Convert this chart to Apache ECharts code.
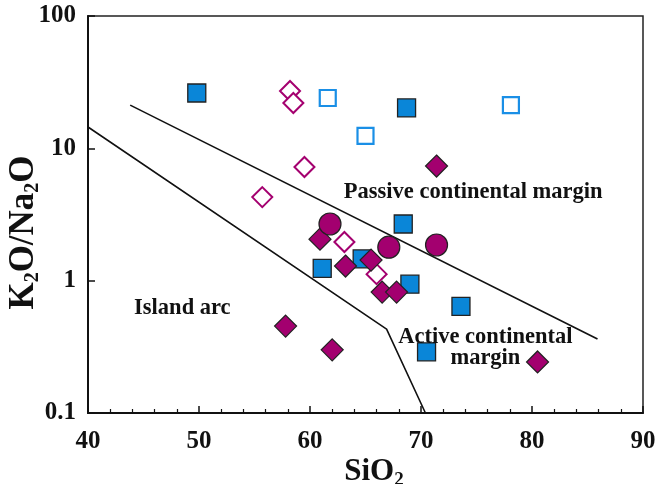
<!DOCTYPE html>
<html>
<head>
<meta charset="utf-8">
<script src="https://cdn.jsdelivr.net/npm/echarts@6/dist/echarts.min.js"></script>
<style>
html,body{margin:0;padding:0;background:#fff;}
#main{width:661px;height:484px;}
</style>
</head>
<body>
<div id="main"></div>
<script>
// SiO2 - K2O/Na2O 构造环境判别图
var serif = "'Liberation Serif', 'Times New Roman', serif";

var xTicks = [40, 50, 60, 70, 80, 90];
var yTicks = [0.1, 1, 10, 100];

// 样品点 [SiO2, K2O/Na2O]
var filledSquares = [[49.8, 26.2], [68.7, 20.2], [68.4, 2.68], [61.1, 1.24], [64.7, 1.46], [69.0, 0.94], [73.6, 0.64], [70.5, 0.29]];
var openSquares = [[61.6, 24.0], [65.0, 12.4], [78.1, 21.2]];
var openDiamonds = [[58.2, 27.1], [58.5, 22.0], [59.5, 7.23], [55.7, 4.28], [63.1, 1.96], [66.0, 1.12]];
var filledDiamonds = [[71.4, 7.35], [60.9, 2.06], [63.2, 1.29], [65.5, 1.43], [66.5, 0.82], [67.8, 0.82], [57.8, 0.454], [62.0, 0.30], [80.5, 0.243]];
var circles = [[61.8, 2.68], [67.1, 1.79], [71.4, 1.86]];

// 分区界线
var upperBoundary = [[43.8, 21.2], [85.9, 0.362]];
var lowerBoundary = [[40, 14.5], [66.9, 0.43], [70.4, 0.1]];

// 分区名称
var regionNames = ['Passive continental margin', 'Island arc', 'Active continental\nmargin'];
var regionPos = [[74.7, 4.68], [48.5, 0.621], [75.8, 0.312]];

var regionData = [];
for (var i = 0; i < regionNames.length; i++) {
	regionData.push({ value: regionPos[i], name: regionNames[i] });
}

function boundary(data) {
	return {
		type: 'line',
		data: data,
		symbol: 'none',
		silent: true,
		z: 1,
		lineStyle: { color: '#111', width: 1.6 }
	};
}

function points(name, data, symbol, size, z, style) {
	style.opacity = 1;
	return {
		name: name,
		type: 'scatter',
		data: data,
		symbol: symbol,
		symbolSize: size,
		z: z,
		itemStyle: style
	};
}

var chart = echarts.init(document.getElementById('main'));
var option = {
	animation: false,
	grid: {
		left: 88, right: 18, top: 16, bottom: 71,
		outerBoundsMode: 'none',
		containLabel: false,
		show: true,
		borderColor: '#222',
		borderWidth: 1.5
	},
	xAxis: {
		type: 'value',
		min: xTicks[0],
		max: xTicks[xTicks.length - 1],
		interval: 10,
		name: '{a|SiO}{b|2}',
		nameLocation: 'middle',
		nameMoveOverlap: false,
		nameGap: 40,
		nameTextStyle: {
			padding: [0, 0, 0, 17],
			rich: {
				a: { fontFamily: serif, fontWeight: 'bold', fontSize: 31, color: '#111' },
				b: { fontFamily: serif, fontWeight: 'bold', fontSize: 19, color: '#111', padding: [18, 0, 0, 0] }
			}
		},
		axisLine: { lineStyle: { color: '#111', width: 2 } },
		axisTick: { inside: true, length: 7, lineStyle: { color: '#111', width: 1.5 } },
		minorTick: { show: true, splitNumber: 5, length: 4, lineStyle: { color: '#111', width: 1.2 } },
		splitLine: { show: false },
		axisLabel: {
			margin: 16,
			fontFamily: serif,
			fontWeight: 'bold',
			fontSize: 25,
			color: '#111'
		}
	},
	yAxis: {
		type: 'log',
		logBase: 10,
		min: yTicks[0],
		max: yTicks[yTicks.length - 1],
		name: '{a|K}{b|2}{a|O/Na}{b|2}{a|O}',
		nameLocation: 'middle',
		nameMoveOverlap: false,
		nameGap: 45,
		nameRotate: 90,
		nameTextStyle: {
			padding: [0, 36, 0, 0],
			rich: {
				a: { fontFamily: serif, fontWeight: 'bold', fontSize: 35, color: '#111' },
				b: { fontFamily: serif, fontWeight: 'bold', fontSize: 20, color: '#111', padding: [18, 0, 0, 0] }
			}
		},
		axisLine: { lineStyle: { color: '#111', width: 2 } },
		axisTick: { inside: true, length: 7, lineStyle: { color: '#111', width: 1.5 } },
		splitLine: { show: false },
		axisLabel: {
			margin: 12,
			fontFamily: serif,
			fontWeight: 'bold',
			fontSize: 25,
			color: '#111'
		}
	},
	series: [
		boundary(upperBoundary),
		boundary(lowerBoundary),
		points('openSquares', openSquares, 'rect', 16, 2, { color: '#fff', borderColor: '#1a8fe6', borderWidth: 2.2 }),
		points('filledSquares', filledSquares, 'rect', 18, 3, { color: '#0a86d8', borderColor: '#222', borderWidth: 1.3 }),
		points('openDiamonds', openDiamonds, 'diamond', 20, 4, { color: '#fff', borderColor: '#a4006f', borderWidth: 2 }),
		points('filledDiamonds', filledDiamonds, 'diamond', 22, 5, { color: '#a3006f', borderColor: '#222', borderWidth: 1.2 }),
		points('circles', circles, 'circle', 22, 6, { color: '#a3006f', borderColor: '#222', borderWidth: 1.2 }),
		{
			name: 'regions',
			type: 'scatter',
			data: regionData,
			symbolSize: 0,
			silent: true,
			z: 7,
			itemStyle: { opacity: 1 },
			label: {
				show: true,
				position: 'inside',
				formatter: '{b}',
				fontFamily: serif,
				fontWeight: 'bold',
				fontSize: 22.5,
				lineHeight: 21,
				color: '#111',
				opacity: 1,
				align: 'center'
			}
		}
	]
};
chart.setOption(option);
</script>
</body>
</html>
